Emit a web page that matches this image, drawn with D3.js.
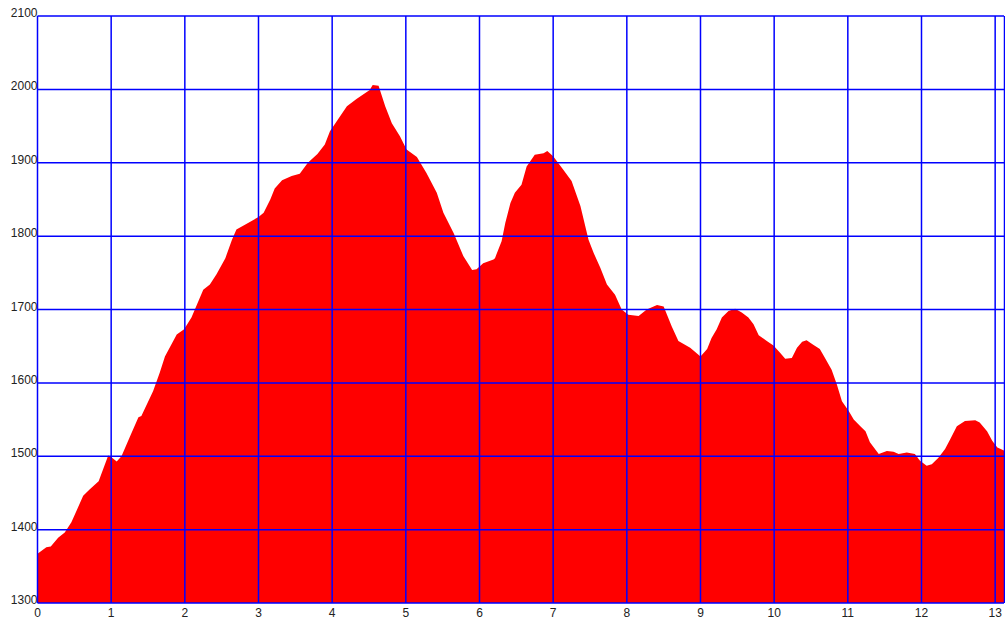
<!DOCTYPE html>
<html>
<head>
<meta charset="utf-8">
<script src="https://cdn.jsdelivr.net/npm/d3@7"></script>
<style>
    body { margin: 0; background: #ffffff; }
    .label { font-family: "Liberation Sans", Arial, sans-serif; font-size: 12px; fill: #222222; }
</style>
</head>
<body>
<svg id="chart" width="1005" height="622"></svg>
<script>
// Distance along the route (km)
let distance_km = [
    0, 0.12, 0.18, 0.28, 0.37, 0.46, 0.62, 0.71, 0.83, 0.96,
    1.0, 1.075, 1.14, 1.26, 1.37, 1.41, 1.57, 1.66, 1.73, 1.89,
    1.99, 2.09, 2.25, 2.34, 2.43, 2.55, 2.64, 2.70, 2.84, 3.0,
    3.07, 3.16, 3.22, 3.32, 3.45, 3.56, 3.67, 3.80, 3.90, 3.97,
    4.20, 4.33, 4.51, 4.55, 4.63, 4.72, 4.81, 4.92, 5.01, 5.15,
    5.28, 5.42, 5.51, 5.65, 5.78, 5.90, 5.96, 6.05, 6.19, 6.21,
    6.30, 6.35, 6.42, 6.48, 6.57, 6.64, 6.75, 6.87, 6.92, 7.00,
    7.14, 7.25, 7.37, 7.48, 7.55, 7.64, 7.73, 7.84, 7.93, 8.02,
    8.16, 8.27, 8.41, 8.50, 8.61, 8.70, 8.86, 9.0, 9.09, 9.15,
    9.22, 9.29, 9.38, 9.47, 9.56, 9.65, 9.72, 9.79, 9.90, 9.99,
    10.08, 10.15, 10.24, 10.31, 10.38, 10.44, 10.53, 10.62, 10.69, 10.78,
    10.85, 10.92, 11.01, 11.08, 11.17, 11.24, 11.30, 11.42, 11.53, 11.62,
    11.69, 11.80, 11.91, 11.98, 12.07, 12.14, 12.23, 12.32, 12.39, 12.48,
    12.59, 12.73, 12.79, 12.89, 12.96, 13.03, 13.12
];

// Elevation (m)
let elevation_m = [
    1367, 1376, 1377, 1389, 1396, 1410, 1446, 1455, 1466, 1501,
    1499, 1493, 1500, 1528, 1553, 1555, 1589, 1614, 1636, 1666,
    1673, 1689, 1727, 1734, 1748, 1770, 1795, 1809, 1817, 1826,
    1832, 1850, 1865, 1876, 1882, 1885, 1900, 1912, 1925, 1943,
    1977, 1987, 1999, 2006, 2005, 1977, 1954, 1936, 1918, 1908,
    1886, 1859, 1832, 1804, 1773, 1754, 1755, 1763, 1768, 1770,
    1793, 1818, 1845, 1859, 1870, 1895, 1911, 1913, 1916, 1909,
    1890, 1875, 1841, 1795, 1777, 1757, 1734, 1720, 1700, 1693,
    1691, 1700, 1706, 1704, 1677, 1657, 1648, 1636, 1646, 1661,
    1673, 1689, 1698, 1701, 1696, 1689, 1680, 1665, 1657, 1651,
    1641, 1633, 1634, 1648, 1656, 1658, 1652, 1646, 1634, 1618,
    1598, 1575, 1562, 1550, 1541, 1534, 1519, 1503, 1507, 1506,
    1503, 1505, 1503, 1494, 1487, 1489, 1498, 1510, 1523, 1541,
    1548, 1549, 1546, 1534, 1521, 1512, 1508
];

// Tick labels
let x_ticks = [0, 1, 2, 3, 4, 5, 6, 7, 8, 9, 10, 11, 12, 13];
let y_ticks = [1300, 1400, 1500, 1600, 1700, 1800, 1900, 2000, 2100];

let x_max = 13.12;

let svg = d3.select("#chart");

let plot_left = 37.5, plot_top = 16, plot_right = 1004, plot_bottom = 603;

let x = d3.scaleLinear()
    .domain([0, x_max])
    .range([plot_left, plot_right]);

let y = d3.scaleLinear()
    .domain([1300, 2100])
    .range([plot_bottom, plot_top]);

let points = distance_km.map(function(d, i) {
    return { km: d, ele: elevation_m[i] };
});

// Red elevation area
let area = d3.area()
    .x(function(d) { return x(d.km); })
    .y0(y(1300))
    .y1(function(d) { return y(d.ele); });

svg.append("path")
    .datum(points)
    .attr("d", area)
    .style("fill", "#ff0000");

// Grid lines drawn on top of the area
svg.selectAll(".vline")
    .data(x_ticks)
    .enter().append("line")
    .attr("class", "vline")
    .attr("x1", function(d) { return x(d); })
    .attr("x2", function(d) { return x(d); })
    .attr("y1", plot_top)
    .attr("y2", plot_bottom)
    .style("stroke", "#0000ff")
    .style("stroke-width", 1.5);

svg.selectAll(".hline")
    .data(y_ticks)
    .enter().append("line")
    .attr("class", "hline")
    .attr("x1", plot_left)
    .attr("x2", plot_right)
    .attr("y1", function(d) { return y(d); })
    .attr("y2", function(d) { return y(d); })
    .style("stroke", "#0000ff")
    .style("stroke-width", 1.5);

// Right border
svg.append("line")
    .attr("x1", plot_right + 0.5)
    .attr("x2", plot_right + 0.5)
    .attr("y1", plot_top)
    .attr("y2", plot_bottom)
    .style("stroke", "#0000ff")
    .style("stroke-width", 1.5);

// Axis labels
svg.selectAll(".ylabel")
    .data(y_ticks)
    .enter().append("text")
    .attr("class", "label")
    .attr("x", plot_left)
    .attr("y", function(d) { return y(d) + 1; })
    .attr("text-anchor", "end")
    .text(function(d) { return d; });

svg.selectAll(".xlabel")
    .data(x_ticks)
    .enter().append("text")
    .attr("class", "label")
    .attr("x", function(d) { return x(d); })
    .attr("y", 617)
    .attr("text-anchor", "middle")
    .text(function(d) { return d; });
</script>
</body>
</html>
